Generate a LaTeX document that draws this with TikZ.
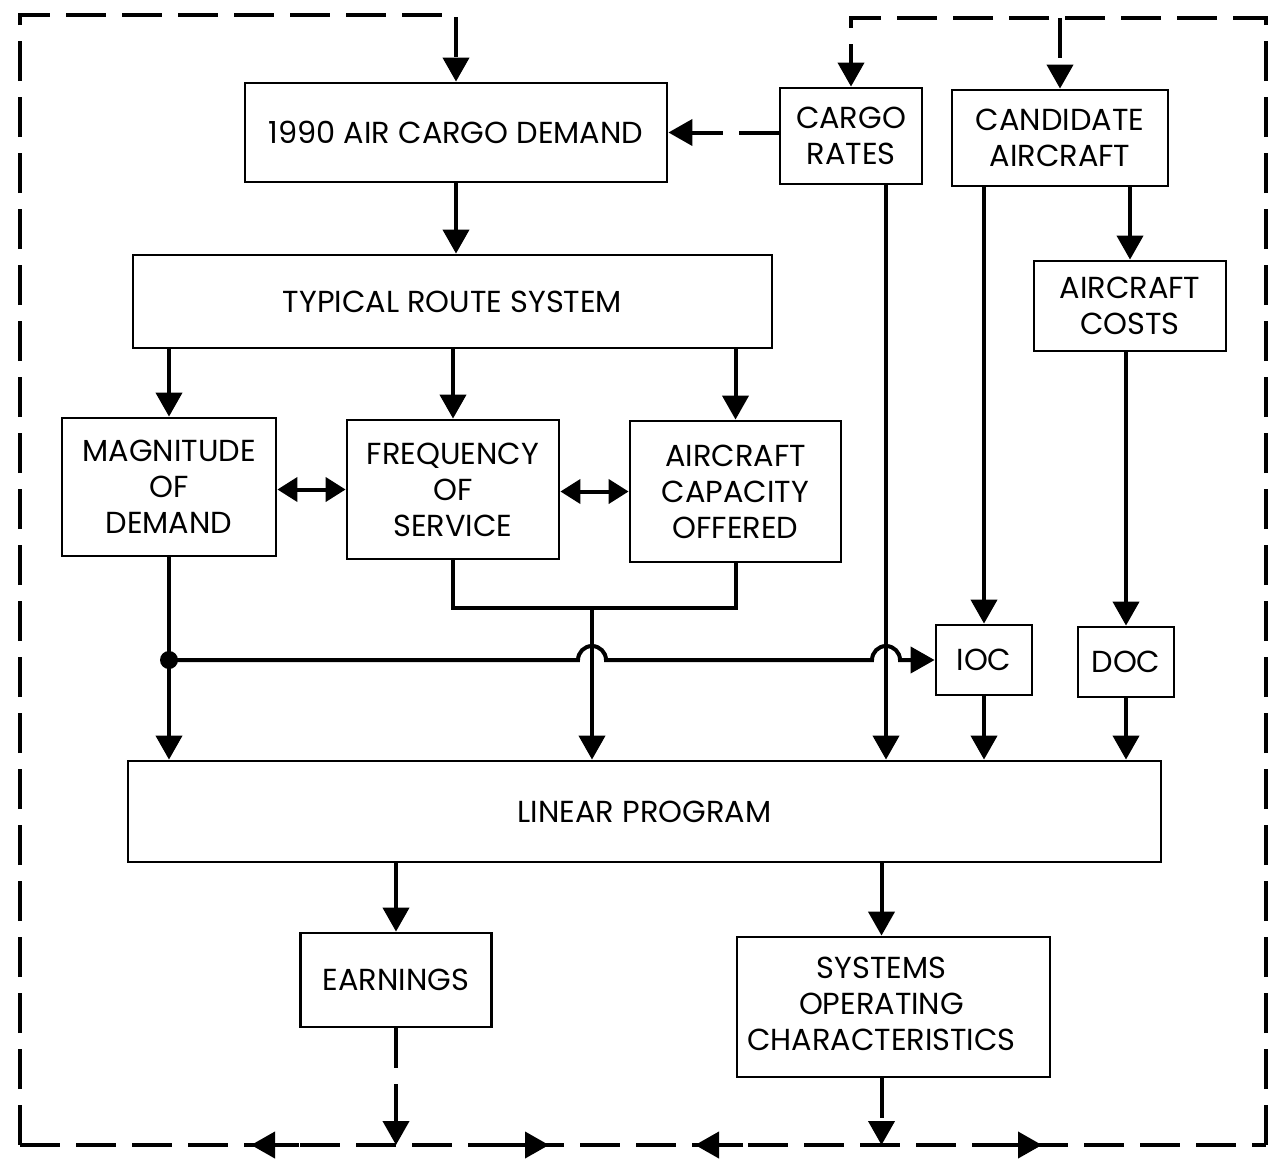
\documentclass[tikz,border=0pt]{standalone}
\usepackage{fontspec}
\setmainfont{Poppins}
\usetikzlibrary{arrows.meta,calc}
\begin{document}
\begin{tikzpicture}[x=0.5pt,y=-0.5pt,
  box/.style={draw,line width=1.4pt,align=center,inner sep=0pt,font=\fontsize{15.2}{18}\selectfont},
  conn/.style={line width=2pt,-{Triangle[width=13pt,length=12pt]}},
  plain/.style={line width=2pt},
  dbl/.style={line width=2pt,{Triangle[width=12pt,length=10pt]}-{Triangle[width=12pt,length=10pt]}},
  dashline/.style={line width=2pt,dash pattern=on 20pt off 8pt},
  dashconn/.style={dashline,-{Triangle[width=13pt,length=12pt]}}
]
\useasboundingbox (0,0) rectangle (1277,1162);
% boxes
\node[box,minimum width=211pt,minimum height=49.5pt] (dem) at (456,132.5) {1990 AIR CARGO DEMAND};
\node[box,minimum width=71pt,minimum height=48pt] (rates) at (851,136) {CARGO\\RATES};
\node[box,minimum width=108pt,minimum height=48pt] (cand) at (1060,138) {CANDIDATE\\AIRCRAFT};
\node[box,minimum width=319.5pt,minimum height=46.5pt] (trs) at (452.5,301.5) {TYPICAL ROUTE SYSTEM};
\node[box,minimum width=96pt,minimum height=45pt] (costs) at (1130,306) {AIRCRAFT\\COSTS};
\node[box,minimum width=107pt,minimum height=69pt] (mag) at (169,487) {MAGNITUDE\\OF\\DEMAND};
\node[box,minimum width=106pt,minimum height=69.5pt] (freq) at (453,489.5) {FREQUENCY\\OF\\SERVICE};
\node[box,minimum width=105.5pt,minimum height=70.5pt] (aco) at (735.5,491.5) {AIRCRAFT\\CAPACITY\\OFFERED};
\node[box,minimum width=48pt,minimum height=35pt] (ioc) at (984,660) {IOC};
\node[box,minimum width=48pt,minimum height=35pt] (doc) at (1126,662) {DOC};
\node[box,minimum width=516.5pt,minimum height=50.5pt] (lp) at (644.5,811.5) {LINEAR PROGRAM};
\node[box,minimum width=95.5pt,minimum height=47pt] (earn) at (396,980) {EARNINGS};
\node[box,minimum width=156.5pt,minimum height=70pt] (sys) at (893.5,1007) {\begin{tabular}{@{}c@{\hspace{12pt}}}SYSTEMS\\OPERATING\\CHARACTERISTICS\end{tabular}};
% helper coordinates
\coordinate (fj) at ($(freq.south)+(139,48)$);
\coordinate (ra) at ($(rates.south)+(35,0)$);
\coordinate (sx) at ($(sys.north)+(-12,0)$);
\coordinate (dot) at (mag.south |- ioc.west);
\coordinate (j1) at ($(fj |- dot)+(-7pt,0)$);
\coordinate (j2) at ($(ra |- dot)+(-7pt,0)$);
\coordinate (bl) at (20,1145);
\coordinate (br) at (1266,1145);
\coordinate (tl) at (20,15);
\coordinate (tr) at (1266,18);
% solid connectors
\draw[conn] (dem.south) -- (dem.south |- trs.north);
\draw[conn] (mag.north |- trs.south) -- (mag.north);
\draw[conn] (freq.north |- trs.south) -- (freq.north);
\draw[conn] (aco.north |- trs.south) -- (aco.north);
\draw[dbl] (mag.east |- freq.west) -- (freq.west);
\draw[dbl] (freq.east |- aco.west) -- (aco.west);
\draw[plain] (freq.south) |- (fj) -| (aco.south);
\draw[conn] (fj) -- (fj |- lp.north);
\draw[conn] (mag.south) -- (mag.south |- lp.north);
\fill (dot) circle (4.5pt);
\draw[conn] (dot) -- (j1) arc[start angle=180,end angle=0,radius=7pt] -- (j2) arc[start angle=180,end angle=0,radius=7pt] -- (ioc.west);
\draw[conn] (ra) -- (ra |- lp.north);
\draw[conn] (cand.south -| ioc.north) -- (ioc.north);
\draw[conn] (cand.south -| costs.north) -- (costs.north);
\draw[conn] (costs.south -| doc.north) -- (doc.north);
\draw[conn] (ioc.south) -- (ioc.south |- lp.north);
\draw[conn] (doc.south) -- (doc.south |- lp.north);
\draw[conn] (lp.south -| earn.north) -- (earn.north);
\draw[conn] (lp.south -| sx) -- (sx);
% dashed feedback
\draw[dashconn] (rates.west |- dem.east) -- (dem.east);
\draw[dashconn] (bl) -- (tl) -- (tl -| dem.north) -- (dem.north);
\draw[dashconn] (br) -- (tr) -- (tr -| rates.north) -- (rates.north);
\draw[dashconn] (tr -| cand.north) -- (cand.north);
\draw[dashline] (bl) -- (br);
\draw[dashconn] (earn.south) -- (earn.south |- bl);
\coordinate (sb) at (sx |- sys.south);
\draw[dashconn] (sb) -- (sb |- bl);
\coordinate (a1) at (251,1145);
\coordinate (a2) at (549,1145);
\coordinate (a3) at (695,1145);
\coordinate (a4) at (1042,1145);
\draw[conn] ($(a1)+(48,0)$) -- (a1);
\draw[conn] ($(a2)+(-48,0)$) -- (a2);
\draw[conn] ($(a3)+(48,0)$) -- (a3);
\draw[conn] ($(a4)+(-48,0)$) -- (a4);
\end{tikzpicture}
\end{document}
